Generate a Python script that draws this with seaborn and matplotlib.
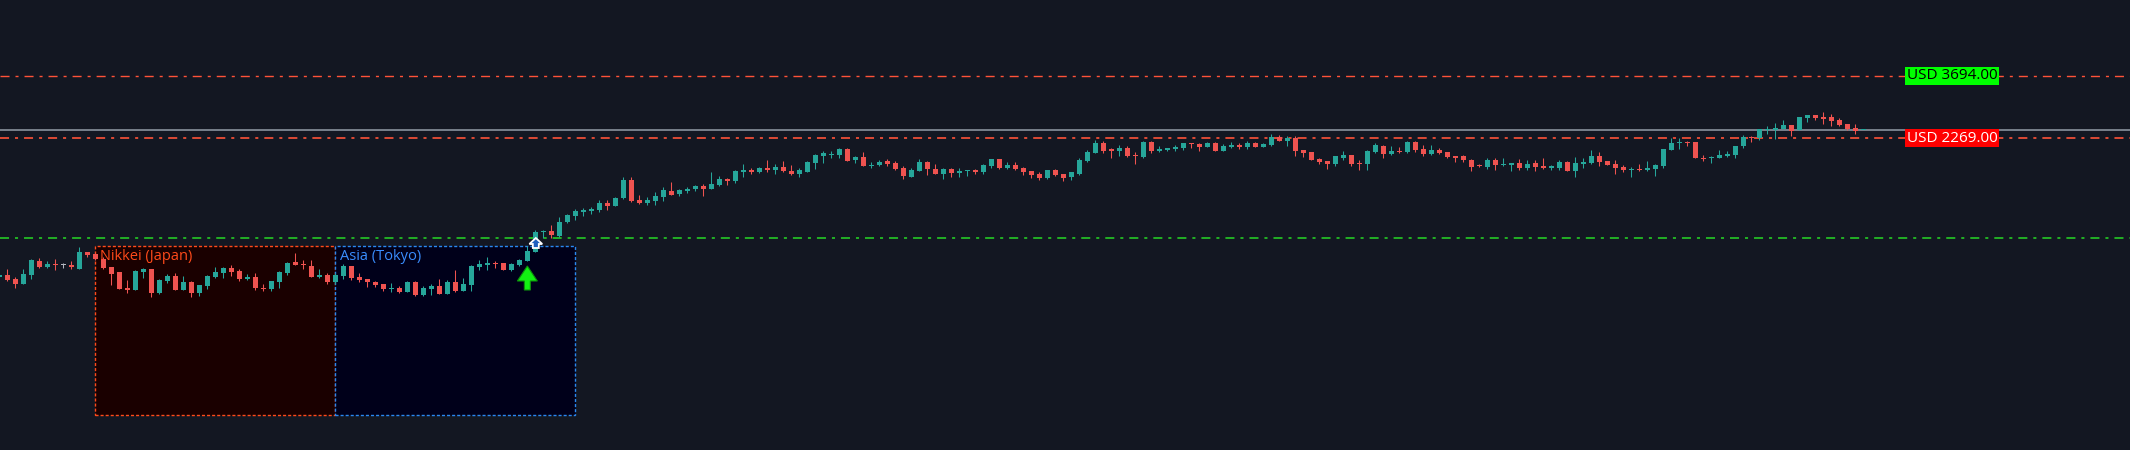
import matplotlib
matplotlib.use("Agg")
import matplotlib.pyplot as plt
from matplotlib.patches import Rectangle, FancyArrow
import seaborn as sns

# ---------------- data (price units) ----------------
candle_index = list(range(-1, 233))

opens = [
    173, 175, 170.7, 166.3, 175.3, 188.7, 183.3, 186.3, 185, 185.3,
    181.3, 198, 196, 191.3, 183, 178, 162, 160, 178.3, 180.7,
    157, 169.3, 174, 160, 168, 157, 164, 173, 177.3, 182.3,
    179, 171, 173, 162, 161, 168.3, 177, 188, 186.3, 184,
    173.3, 175, 168, 174, 184, 173, 170.7, 168.3, 166, 160.7,
    162, 158, 168, 155, 161.3, 164, 156, 168, 159, 165,
    183, 185.3, 186.7, 187, 180, 185, 189, 198.3, 217.7, 219.3,
    214, 228, 234.3, 238, 239.3, 240, 247.3, 244, 251.7, 270,
    250, 246.7, 249, 253, 259, 256, 259, 261, 264, 261,
    265, 271.3, 269, 278.3, 280.3, 278, 282, 280, 283, 279,
    276, 278.3, 287, 294.5, 295.5, 295, 301, 290, 293, 284.5,
    285, 288.7, 287, 282, 273, 279, 288, 281, 276, 281,
    277, 279, 279.7, 278, 284, 291, 282, 285, 282, 279,
    276, 272, 280, 276, 273, 276, 289, 297, 307, 301,
    299, 302, 295.5, 293, 308, 299, 300, 301, 302, 306.7,
    306, 303, 307, 299, 303, 305, 303, 307, 303, 305,
    313, 309, 312, 300, 298, 291, 289, 286, 292, 295,
    287.5, 286, 298, 304, 296, 299.5, 298, 308, 301, 296,
    300, 298, 294, 294, 290, 284.5, 283, 290, 285.5, 285,
    287, 282, 287, 284, 282, 282, 288, 279, 286, 287,
    294, 289, 286, 283, 280.5, 281.5, 280, 281, 284, 300,
    307.5, 308.5, 308, 292.5, 292.5, 292, 294, 295, 304, 313.5,
    312, 320.5, 320, 321, 325, 320, 332, 335, 333, 333,
    330, 326, 322, 319.8,
]
highs = [
    176, 180.7, 172.7, 180.7, 191, 191.7, 189, 190.7, 187.3, 188.7,
    202.7, 198, 197.3, 193.3, 183, 178, 170, 180, 181.7, 180.7,
    171, 176, 177.3, 174.3, 169, 165, 175, 183, 183.3, 185,
    181, 176.3, 177.3, 166, 169, 179, 188, 197, 190, 190,
    181, 176.7, 176.7, 186, 184, 176.7, 170.7, 169, 166, 167.3,
    164, 169.3, 169, 164, 166, 171, 170, 180, 172, 185,
    190, 193, 189, 187, 187, 191, 204, 220, 220, 225,
    233, 236, 241, 242, 242.7, 250, 250, 253.3, 273, 273,
    255, 253, 258, 263, 268, 261, 262.7, 265, 266, 278,
    274, 272, 280, 286, 282, 283, 290, 286, 289, 285,
    282, 289, 296, 299, 299, 302, 302, 294, 298, 288,
    290, 291, 289, 284, 282, 291, 289, 286, 282, 282,
    282, 280, 281, 286, 291, 291, 288, 288, 283, 279,
    278, 280, 281, 276, 278, 292, 300, 310, 309, 302,
    305, 304, 298, 309, 309, 304, 302, 305, 307, 307,
    307, 308, 308, 306, 308, 307, 309, 308, 307, 316,
    315, 314, 314, 300, 298, 292, 289, 294, 299, 295,
    290, 300, 307, 305, 304, 303, 309, 309, 305, 305,
    302, 298, 294, 295, 291, 286, 292, 292, 292, 287,
    291, 290, 290, 292, 285, 290, 289, 293, 292, 300,
    298, 289, 290, 285, 283, 286, 289, 286, 301, 312,
    312, 309, 308, 295, 294, 300, 299, 304, 315, 314,
    321, 324, 327, 330, 325, 333, 335, 335, 338, 336,
    332, 326, 326, 320.2,
]
lows = [
    172, 169.3, 162.3, 166, 171, 182.3, 182.3, 180, 182.3, 181.3,
    181, 192.7, 190, 181, 165.3, 161, 157.3, 160, 172.3, 153.3,
    156.3, 167.3, 160, 160, 153, 154.3, 161.3, 172.3, 172.3, 174.3,
    169, 170.3, 160.3, 159.3, 159.3, 162.3, 175, 185.3, 181, 173.3,
    172.3, 166.3, 166, 170.7, 170.3, 168, 163.3, 162.7, 158.7, 158,
    156.7, 158, 154.3, 154.3, 155.3, 156, 156, 158, 159, 159,
    180, 180, 181.7, 180, 179, 184.3, 189, 198.3, 211.7, 211.7,
    213.3, 226.7, 230, 234.3, 236.3, 238.3, 240, 244, 251, 248,
    246, 245, 245, 249, 255, 254, 257, 259.3, 254, 261,
    264, 265, 267, 273, 276, 277.3, 278.3, 276.3, 278.3, 275,
    273.3, 278, 281, 287, 292, 292, 289, 287, 284, 282,
    284, 284, 280, 271, 273, 279, 275, 276, 271, 273,
    273, 274, 276, 276, 282, 281, 281, 280, 275, 272,
    270, 271, 274, 269, 270, 275, 288, 297, 297, 292,
    294, 293, 286, 292, 297, 298, 299, 299, 300, 302,
    299, 303, 299, 299, 302, 301, 301, 303, 303, 304,
    309, 304, 294, 293, 290, 286, 281, 284, 290, 284,
    280, 280, 297, 292, 295, 297, 297, 298, 294, 295,
    296, 292, 288, 288, 279, 283, 281, 280, 284, 279,
    280, 280, 279, 281, 280, 280, 279, 273, 282, 286,
    284, 285, 276, 278, 273, 279, 279, 274, 282, 300,
    301, 304, 292, 289, 287, 292, 293, 292, 302, 308,
    310, 316, 311, 321, 314, 320, 328, 330, 326, 324,
    324, 320, 316, 319.8,
]
closes = [
    175, 170, 166.3, 176, 190, 183, 186.3, 184.7, 185, 182.7,
    198, 195.3, 191, 182.3, 176.3, 161.3, 160.3, 179.3, 181, 157.3,
    170, 174, 160, 168, 157.3, 165, 174, 178, 182.3, 178.3,
    170.7, 173, 162.3, 161, 169, 178.3, 187, 185.3, 184.7, 173.3,
    175, 168, 175, 184.3, 171.7, 170.3, 168, 165.3, 161, 162,
    157.7, 168, 155, 162, 164, 156, 168, 158.7, 166, 184,
    186, 187, 186, 180, 186, 190, 199, 218.3, 219, 215,
    228.3, 235, 239.3, 240, 241.3, 247, 244, 252, 270, 249,
    246.7, 250, 254, 260, 255, 260, 261.3, 264, 261, 266,
    271, 269.3, 279, 280.3, 278, 282, 280.3, 283, 279, 276,
    280, 288, 295, 297, 296.5, 301, 289, 293, 284, 285.5,
    288, 286, 281, 274, 280, 288, 281, 276, 281, 277,
    279.3, 280, 278.3, 285, 291, 282, 285, 281, 278, 275,
    272, 280, 275, 272, 278, 290, 298, 307, 299, 299,
    302, 294, 294.5, 308, 299, 301, 302, 303.3, 307, 306,
    303, 307, 299, 304, 305, 303.3, 307, 303, 306, 313,
    309, 312, 299, 297, 290, 288, 286, 294, 295, 286,
    286.5, 299, 305, 296, 299, 298.5, 308, 300, 296, 300,
    297, 293, 292, 290, 283, 284, 290, 285, 286.5, 287,
    282, 286, 283, 282, 284, 288, 279, 287, 288, 294,
    288, 285, 282, 280, 281.5, 280.5, 282, 285, 301, 307,
    308.5, 307.5, 292, 291.5, 293.5, 295, 296, 304, 313, 312.5,
    321, 321.5, 322, 325, 319, 333, 335, 332, 331, 329,
    325, 321, 319, 320.2,
]

level_names = ["USD 3694.00", "USD 2269.00"]
level_values = [374.3, 311.7]
current_price = 319.7
support_level = 211.7

sessions = ["Nikkei (Japan)", "Asia (Tokyo)"]
session_start = [11, 41]
session_end = [41, 71]
session_low = [35, 35]
session_high = [204, 204]

signal_up_index = 65
signal_up_low, signal_up_high = 160, 184
marker_index = 66.06
marker_low, marker_high = 202, 212

# ---------------- style ----------------
BG = "#131722"
TEAL = "#26a69a"
RED = "#ef5350"
sns.set_theme(style="dark", rc={"axes.facecolor": BG, "figure.facecolor": BG,
                                "savefig.facecolor": BG})
plt.rcParams["font.family"] = ["Open Sans", "DejaVu Sans"]
plt.rcParams["lines.scale_dashes"] = False

fig = plt.figure(figsize=(21.3, 4.5), dpi=100)
ax = fig.add_axes([0, 0, 1, 1])
ax.set_facecolor(BG)
ax.set_xlim(-0.9167, 265.33)
ax.set_ylim(0, 450)
ax.set_axis_off()

# session boxes
box_styles = [("#1a0000", "#ff4a1a"), ("#00001a", "#2a88f0")]
text_colors = ["#ff4a1a", "#3a8eff"]
for name, s, e, lo, hi, (fc, ec), tc in zip(sessions, session_start, session_end,
                                             session_low, session_high,
                                             box_styles, text_colors):
    ax.add_patch(Rectangle((s, lo), e - s, hi - lo, facecolor=fc, edgecolor=ec,
                           lw=1.0, linestyle=(0, (2.2, 1.45)), zorder=1))
    ax.text(s + 0.58, hi - 3.5, name, color=tc, fontsize=10.5, ha="left",
            va="top", zorder=4)

# horizontal levels
dd = (0, (6.5, 4.3, 2.2, 4.3))
ax.axhline(level_values[0], color="#ff5238", lw=1.0, linestyle=dd, zorder=2)
ax.axhline(level_values[1], color="#ff5238", lw=1.2, linestyle=dd, zorder=2)
ax.axhline(support_level, color="#25c925", lw=1.2, linestyle=dd, zorder=2)
ax.axhline(current_price, color="#939da8", lw=1.1, zorder=2)

# candles
colors = []
for o, c in zip(opens, closes):
    colors.append(TEAL if c > o else (RED if c < o else "#b2b5be"))
ax.vlines(candle_index, lows, highs, colors=colors, lw=0.75, zorder=3)
bottoms = [min(o, c) for o, c in zip(opens, closes)]
heights = [max(abs(c - o), 1.0) for o, c in zip(opens, closes)]
ax.bar(candle_index, heights, bottom=bottoms, width=0.625, color=colors,
       linewidth=0, zorder=3)

# level labels
ax.text(237.45, level_values[0], level_names[0], color="black", fontsize=11,
        ha="left", va="center", zorder=5,
        bbox=dict(boxstyle="square,pad=0.1", fc="#00ff00", ec="none"))
ax.text(237.45, level_values[1], level_names[1], color="white", fontsize=11,
        ha="left", va="center", zorder=5,
        bbox=dict(boxstyle="square,pad=0.1", fc="#ff0000", ec="none"))

# signal arrows
ax.add_patch(FancyArrow(signal_up_index, signal_up_low, 0,
                        signal_up_high - signal_up_low, width=0.75,
                        head_width=2.5, head_length=15,
                        length_includes_head=True, fc="#12f012", ec="#0c8f0c",
                        lw=0.8, zorder=6))
ax.add_patch(FancyArrow(marker_index, marker_low, 0, marker_high - marker_low,
                        width=0.75, head_width=1.6, head_length=6,
                        length_includes_head=True, fc="#1f5fbf", ec="white",
                        lw=1.3, zorder=6))

fig.savefig("out.png", dpi=100, facecolor=BG)
